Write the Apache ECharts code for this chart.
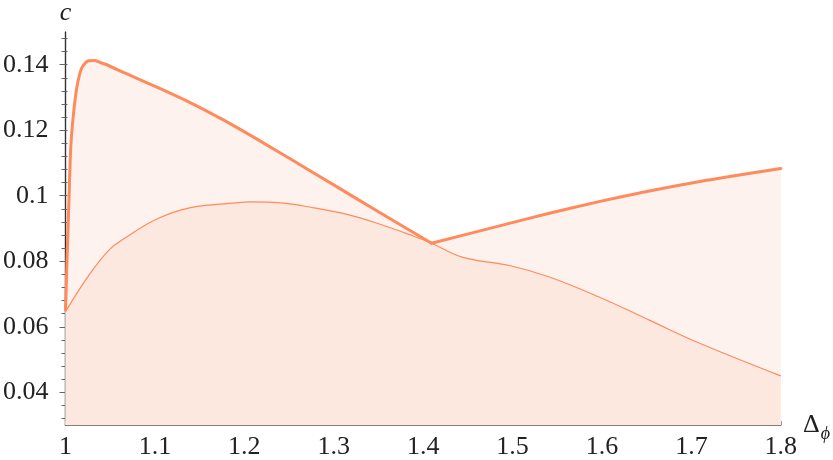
<!DOCTYPE html>
<html>
<head>
<meta charset="utf-8">
<script src="https://cdn.jsdelivr.net/npm/echarts@6/dist/echarts.min.js"></script>
<style>html,body{margin:0;padding:0;background:#fff}#c{width:833px;height:460px}</style>
</head>
<body>
<div id="c"></div>
<script>
// Upper curve (thick); the kink is at x = 1.4094
var upperX = [1.000, 1.0022, 1.004, 1.0059, 1.0089, 1.0126, 1.0181, 1.0256, 1.033, 1.0404, 1.046, 1.0663, 1.1035, 1.1405, 1.1775, 1.2147, 1.2517, 1.3037, 1.35, 1.4094, 1.4854, 1.54, 1.5966, 1.65, 1.7079, 1.75, 1.8];
var upperY = [0.0651, 0.0847, 0.0998, 0.1149, 0.1249, 0.133, 0.139, 0.1412, 0.1413, 0.1405, 0.1400, 0.1375, 0.1330, 0.1283, 0.1230, 0.1172, 0.1112, 0.1027, 0.0951, 0.0855, 0.0908, 0.0946, 0.0982, 0.1013, 0.1043, 0.1062, 0.1083];
var kinkX = 1.4094;
// Lower curve (thin)
var lowerX = [1.0, 1.0274, 1.0496, 1.0645, 1.1016, 1.1386, 1.1906, 1.207, 1.2406, 1.2777, 1.3148, 1.3519, 1.3889, 1.4094, 1.4445, 1.4965, 1.5411, 1.5967, 1.6523, 1.7079, 1.8];
var lowerY = [0.0646, 0.0762, 0.0837, 0.0867, 0.0928, 0.0963, 0.0978, 0.0981, 0.0978, 0.0963, 0.0943, 0.0913, 0.0877, 0.0855, 0.0812, 0.0787, 0.0752, 0.0691, 0.0621, 0.0551, 0.0450];
// Tick labels
var xTicks = [1, 1.1, 1.2, 1.3, 1.4, 1.5, 1.6, 1.7, 1.8];
var yLabels = [0.04, 0.06, 0.08, 0.1, 0.12, 0.14];
var yMinor = [0.032, 0.036, 0.044, 0.048, 0.052, 0.056, 0.064, 0.068, 0.072, 0.076, 0.084, 0.088, 0.092, 0.096, 0.104, 0.108, 0.112, 0.116, 0.124, 0.128, 0.132, 0.136, 0.144, 0.148];

function pairs(xs, ys) { return xs.map(function (x, i) { return [x, ys[i]]; }); }
var upper = pairs(upperX, upperY);
var k = upperX.indexOf(kinkX);
var upperL = upper.slice(0, k + 1);
var upperR = upper.slice(k);
var lower = pairs(lowerX, lowerY);
var yAll = yLabels.concat(yMinor);

var FONT = 'Liberation Serif';
var LINE = '#ff8a5c';

var baseY = {
  type: 'value', min: 0.03, max: 0.15, position: 'left', offset: 0,
  splitLine: { show: false }
};

function fill(data) {
  return {
    type: 'line', data: data, showSymbol: false, symbol: 'none', z: 1, smooth: 0.25,
    lineStyle: { width: 0 },
    areaStyle: { color: '#fef2ee', opacity: 1, origin: 'start' }
  };
}
function thick(data) {
  return {
    type: 'line', data: data, showSymbol: false, symbol: 'none', z: 3, smooth: 0.25,
    lineStyle: { color: LINE, width: 3, join: 'round', cap: 'round' }
  };
}

var chart = echarts.init(document.getElementById('c'));
chart.setOption({
  animation: false,
  grid: { left: 64, right: 50, top: 28, bottom: 34 },
  xAxis: {
    type: 'value', min: 1, max: 1.8, interval: 0.1,
    name: '{d|Δ}{s|ϕ}', nameLocation: 'end', nameGap: 12,
    nameTextStyle: {
      rich: {
        d: { fontFamily: FONT, fontSize: 26, color: '#222' },
        s: { fontFamily: FONT, fontSize: 18, fontStyle: 'italic', color: '#222', padding: [18, 0, 0, 1] }
      }
    },
    axisLine: { lineStyle: { color: '#555', width: 1.5 } },
    axisTick: { inside: true, length: 4, lineStyle: { color: '#999' } },
    minorTick: { show: true, splitNumber: 2, length: 4, lineStyle: { color: '#999' } },
    splitLine: { show: false },
    axisLabel: {
      fontFamily: FONT, fontSize: 26, color: '#222', margin: 9,
      formatter: function (v) { return String(Math.round(v * 10) / 10); }
    }
  },
  yAxis: [
    Object.assign({}, baseY, {
      name: 'c', nameLocation: 'end', nameGap: 6,
      nameTextStyle: { fontFamily: FONT, fontSize: 26, fontStyle: 'italic', color: '#222', align: 'center' },
      axisLine: { show: true, lineStyle: { color: '#333', width: 1.4 } },
      axisTick: { show: true, inside: false, length: 6, customValues: yLabels, lineStyle: { color: '#666' } },
      axisLabel: {
        show: true, customValues: yLabels, fontFamily: FONT, fontSize: 26, color: '#222', margin: 17,
        formatter: function (v) { return String(Math.round(v * 1000) / 1000); }
      }
    }),
    Object.assign({}, baseY, {
      axisLine: { show: false },
      axisTick: { show: true, inside: false, length: 4, customValues: yMinor, lineStyle: { color: '#666' } },
      axisLabel: { show: false }
    }),
    Object.assign({}, baseY, {
      axisLine: { show: false },
      axisTick: { show: true, inside: true, length: 2, customValues: yAll, lineStyle: { color: '#666' } },
      axisLabel: { show: false }
    })
  ],
  series: [
    fill(upperL),
    fill(upperR),
    {
      type: 'line', data: lower, showSymbol: false, symbol: 'none', z: 2, smooth: 0.4,
      lineStyle: { color: LINE, width: 1.2 },
      areaStyle: { color: '#fde8e0', opacity: 1, origin: 'start' }
    },
    thick(upperL),
    thick(upperR)
  ]
});
</script>
</body>
</html>
